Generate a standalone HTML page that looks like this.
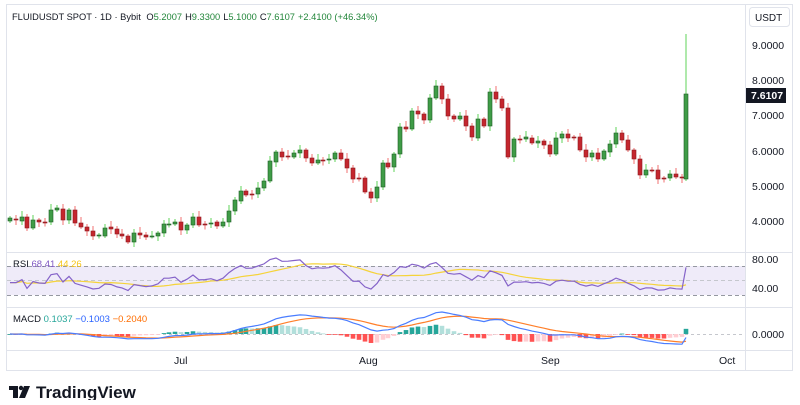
<!DOCTYPE html>
<html><head><meta charset="utf-8">
<style>
body{margin:0;background:#fff;width:800px;height:400px;overflow:hidden;font-family:"Liberation Sans",sans-serif}
</style></head><body>
<svg id="s" width="800" height="400" xmlns="http://www.w3.org/2000/svg" font-family="Liberation Sans, sans-serif">
<rect x="0" y="0" width="800" height="400" fill="#fff"/>
<rect x="6.5" y="4.5" width="786" height="366" fill="none" stroke="#e0e3eb"/>
<line x1="745.5" y1="4" x2="745.5" y2="371" stroke="#e0e3eb"/>
<line x1="7" y1="252.5" x2="793" y2="252.5" stroke="#e0e3eb"/>
<line x1="7" y1="307.5" x2="793" y2="307.5" stroke="#e0e3eb"/>
<line x1="7" y1="350.5" x2="793" y2="350.5" stroke="#e0e3eb"/>
<rect x="7" y="266" width="738" height="29" fill="#efebf9"/>
<line x1="7" y1="266.5" x2="745" y2="266.5" stroke="#9598a1" stroke-dasharray="4,3"/>
<line x1="7" y1="280.5" x2="745" y2="280.5" stroke="#c5c7cd" stroke-dasharray="4,3"/>
<line x1="7" y1="295.5" x2="745" y2="295.5" stroke="#9598a1" stroke-dasharray="4,3"/>
<line x1="7" y1="334.5" x2="745" y2="334.5" stroke="#c5c7cd" stroke-dasharray="3,3"/>
<g id="g"></g>
<text x="12" y="20" font-size="9.3" fill="#131722">FLUIDUSDT SPOT · 1D · Bybit <tspan dx="3">O</tspan><tspan fill="#22863a">5.2007</tspan><tspan dx="3">H</tspan><tspan fill="#22863a">9.3300</tspan><tspan dx="3">L</tspan><tspan fill="#22863a">5.1000</tspan><tspan dx="3">C</tspan><tspan fill="#22863a">7.6107</tspan><tspan dx="3" fill="#22863a">+2.4100 (+46.34%)</tspan></text>
<rect x="749.5" y="7.5" width="40" height="19" rx="3" fill="#fff" stroke="#e0e3eb"/>
<text x="755" y="21" font-size="10" fill="#131722">USDT</text>
<g font-size="10.5" fill="#131722">
<text x="752" y="49">9.0000</text><text x="752" y="84">8.0000</text><text x="752" y="119">7.0000</text>
<text x="752" y="155">6.0000</text><text x="752" y="190">5.0000</text><text x="752" y="225">4.0000</text>
<text x="752" y="263">80.00</text><text x="752" y="292">40.00</text><text x="752" y="338">0.0000</text>
<text x="174" y="364">Jul</text><text x="359" y="364">Aug</text><text x="541" y="364">Sep</text><text x="719" y="364">Oct</text>
</g>
<rect x="746" y="88" width="40" height="15" fill="#131722"/>
<text x="751" y="99" font-size="10.5" font-weight="bold" fill="#fff">7.6107</text>
<text x="13" y="267" font-size="9.5" fill="#131722">RSI <tspan fill="#7e57c2">68.41</tspan> <tspan fill="#f5c518">44.26</tspan></text>
<text x="13" y="322" font-size="9.5" fill="#131722">MACD <tspan fill="#26a69a">0.1037</tspan> <tspan fill="#2962ff">−0.1003</tspan> <tspan fill="#ff6d00">−0.2040</tspan></text>
<g fill="#131722"><rect x="9" y="386" width="9" height="4"/><rect x="13" y="386" width="5" height="12"/><circle cx="21" cy="388" r="2.2"/><polygon points="24,386 30,386 25,398 19,398"/></g>
<text x="36" y="398" font-size="17" font-weight="bold" fill="#131722">TradingView</text>
</svg>
<script>
var d=[[10,221,218],[16,219,220],[22,221,217],[27,217,228],[33,228,220],[39,220,222],[45,222,222.5],[51,222,210],[57,210,208],[63,209,220],[69,220,210],[75,210,223],[81,223,227],[87,227,231],[93,231,236],[99,235.5,235],[105,236,228],[111,227,229],[117,229,234],[122,234,236],[128,236,242],[134,242,233],[140,233,235],[146,235,237],[152,236.5,236],[158,236,233],[164,233,224],[169,224.5,224],[175,224,222],[181,222,230],[187,230,225],[193,225,217],[199,217,225],[205,224,224.5],[211,224,223],[217,222,226],[223,226,222],[229,222,211],[235,211,200],[241,201,191],[246,191,195],[252,194,194.5],[258,194,188],[264,188,181],[270,181,161],[276,162,152],[282,152,157],[288,156,156.5],[294,157,153],[300,153,150],[306,150,158],[312,158,163],[318,163,160],[323,160,160.5],[329,160,159],[335,159,153],[341,153,159],[347,159,168],[353,168,179],[359,178,178.5],[365,178,192],[371,192,198],[377,198,187],[383,187,163],[388,163,167],[394,167,154],[400,154,127],[406,127,129],[412,129,111],[418,111,114],[424,114,120],[430,120,98],[436,98,86],[442,86,99],[448,99,116],[454,116,119],[460,119,116],[466,116,126],[472,126,137],[478,138,119],[484,119,126],[490,126,92],[496,92,99],[502,99,108],[508,108,157],[514,157,139],[520,139,139.5],[526,139,137],[532,138,143],[538,143,141],[544,141,145],[550,145,154],[556,154,138],[562,138,134],[568,134,138],[574,137,137.5],[580,137,150],[586,150,157],[592,157,153],[598,153,159],[604,159,151],[610,152,144],[616,144,133],[622,133,140],[628,140,150],[634,150,159],[640,159,175],[646,175,170],[652,170,170.5],[658,170,179],[664,178,178.5],[670,178,174],[676,174,177],[682,177,178],[686,179,94]];
var g=document.getElementById('g'),h='';
function P(y){return 9-(y-45)/35.2}
var cl=d.map(function(a){return P(a[2])});
d.forEach(function(a,i){
 var x=a[0],o=a[1],c=a[2],up=c<=o;
 var t=Math.min(o,c),b=Math.max(o,c);
 var hi=t-(2+(i*7%5)),lo=b+(2+(i*11%4));
 if(i==d.length-1){hi=34;lo=181}
 h+='<line x1="'+x+'" y1="'+hi+'" x2="'+x+'" y2="'+lo+'" stroke="'+(up?'#5fd35a':'#f07070')+'" stroke-width="1"/>';
 h+='<rect x="'+(x-2)+'" y="'+t+'" width="4" height="'+Math.max(1,b-t)+'" fill="'+(up?'#3f9c47':'#c4262e')+'" stroke="'+(up?'#1e5e25':'#8e1a1f')+'" stroke-width="0.6"/>';
});
var ag=0,al=0,rsi=[],n=14;
for(var i=1;i<cl.length;i++){var ch=cl[i]-cl[i-1],gg=Math.max(ch,0),ll=Math.max(-ch,0);
 if(i==1){ag=0.04;al=0.04}
 ag=(ag*(n-1)+gg)/n;al=(al*(n-1)+ll)/n;rsi.push(100-100/(1+ag/al));}
rsi.unshift(rsi[0]);
var ma=[];rsi.forEach(function(v,i){var s=0,k=0;for(var j=Math.max(0,i-13);j<=i;j++){s+=rsi[j];k++}ma.push(s/k)});
function ry(v){return 259+(80-v)*0.725}
function pl(arr,f,col){return '<polyline fill="none" stroke="'+col+'" stroke-width="1.2" points="'+arr.map(function(v,i){return d[i][0]+','+f(v).toFixed(1)}).join(' ')+'"/>'}
h+=pl(ma,ry,'#f5d33a')+pl(rsi,ry,'#8563c9');
function ema(a,p){var k=2/(p+1),r=[],e=a[0];a.forEach(function(v){e=v*k+e*(1-k);r.push(e)});return r}
var e12=ema(cl,12),e26=ema(cl,26),m=e12.map(function(v,i){return v-e26[i]}),sg=ema(m,9);
var mx=0;m.forEach(function(v){mx=Math.max(mx,Math.abs(v))});var sc=22/mx;
function my(v){return 334-v*sc}
var prev=0;m.forEach(function(v,i){var hv=v-sg[i],x=d[i][0],y=334-hv*sc*1.4,col;
 if(hv>=0)col=hv>=prev?'#26a69a':'#b2dfdb';else col=hv<=prev?'#ff5252':'#ffcdd2';prev=hv;
 h+='<rect x="'+(x-2.3)+'" y="'+Math.min(y,334)+'" width="4.6" height="'+Math.max(0.8,Math.abs(y-334))+'" fill="'+col+'"/>';});
h+=pl(sg,my,'#ff7f2a')+pl(m,my,'#4a7dff');
g.innerHTML=h;
</script>
</body></html>
